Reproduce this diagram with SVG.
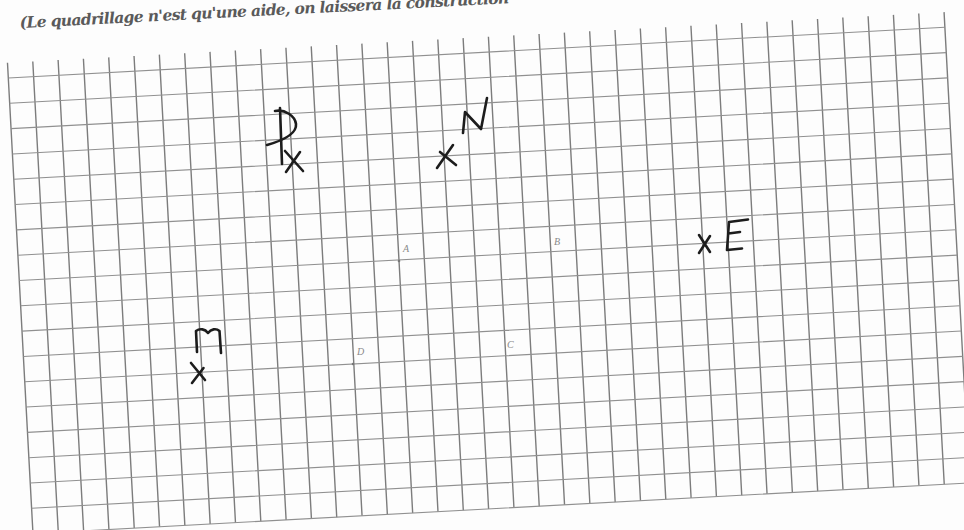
<svg xmlns="http://www.w3.org/2000/svg" width="964" height="530" viewBox="0 0 964 530">
<style>
.bg{fill:#fdfdfd}
.vl{stroke:#7c7c7c;stroke-width:1.4;fill:none}
.hl{stroke:#909090;stroke-width:1.1;fill:none}
.hw{stroke:#1c1c1c;stroke-width:2.6;fill:none;stroke-linecap:round;stroke-linejoin:round}
.hdr{font-family:"DejaVu Serif","Liberation Serif",serif;font-weight:bold;font-style:italic;font-size:15.5px;fill:#5a5a5a}
.lbl{font-family:"Liberation Serif",serif;font-style:italic;font-size:10px;fill:#8a8a8a}
.dot{fill:#777}
</style>
<rect class="bg" width="964" height="530"/>
<g id="header">
<text class="hdr" x="20" y="28" transform="rotate(-2.9 20 28)" textLength="490" lengthAdjust="spacing">(Le quadrillage n'est qu'une aide, on laissera la construction</text>
</g>
<g id="grid" transform="translate(8.3 78) rotate(-3.1)">
<path class="vl" d="M0 -15.2V456.3M25.35 -15.2V456.3M50.7 -15.2V456.3M76.05 -15.2V456.3M101.4 -15.2V456.3M126.75 -15.2V456.3M152.1 -15.2V456.3M177.45 -15.2V456.3M202.8 -15.2V456.3M228.15 -15.2V456.3M253.5 -15.2V456.3M278.85 -15.2V456.3M304.2 -15.2V456.3M329.55 -15.2V456.3M354.9 -15.2V456.3M380.25 -15.2V456.3M405.6 -15.2V456.3M430.95 -15.2V456.3M456.3 -15.2V456.3M481.65 -15.2V456.3M507 -15.2V456.3M532.35 -15.2V456.3M557.7 -15.2V456.3M583.05 -15.2V456.3M608.4 -15.2V456.3M633.75 -15.2V456.3M659.1 -15.2V456.3M684.45 -15.2V456.3M709.8 -15.2V456.3M735.15 -15.2V456.3M760.5 -15.2V456.3M785.85 -15.2V456.3M811.2 -15.2V456.3M836.55 -15.2V456.3M861.9 -15.2V456.3M887.25 -15.2V456.3M912.6 -15.2V456.3M937.95 -15.2V456.3"/>
<path class="hl" d="M0 0H937.95M0 25.35H937.95M0 50.7H937.95M0 76.05H937.95M0 101.4H937.95M0 126.75H937.95M0 152.1H937.95M0 177.45H937.95M0 202.8H937.95M0 228.15H937.95M0 253.5H937.95M0 278.85H937.95M0 304.2H937.95M0 329.55H937.95M0 354.9H937.95M0 380.25H937.95M0 405.6H937.95M0 430.95H937.95M0 456.3H937.95"/>
</g>
<g id="node-A"><circle class="dot" cx="399" cy="261" r="1.3"/><text class="lbl" x="403" y="252">A</text></g>
<g id="node-B"><text class="lbl" x="554" y="244.5">B</text></g>
<g id="node-C"><text class="lbl" x="507" y="348">C</text></g>
<g id="node-D"><circle class="dot" cx="353" cy="364" r="1.3"/><text class="lbl" x="357" y="355">D</text></g>
<g id="node-P">
<path class="hw" d="M280 108 L282 164"/>
<path class="hw" d="M275 111 C285 109 295 116 296 124 C297 134 281 141 267 145"/>
<path class="hw" d="M285 151 L303 171 M300 152 L286 172"/>
</g>
<g id="node-N">
<path class="hw" d="M463 133 L465 112 L481 129 L487 98"/>
<path class="hw" d="M440 152 L456 165 M453 145 L437 168"/>
</g>
<g id="node-E">
<path class="hw" d="M699 235 L710 252 M710 236 L699 253"/>
<path class="hw" d="M748 219.5 L729 222 L727 250 L742 248.5 M728.5 233.5 L740 232"/>
</g>
<g id="node-M">
<path class="hw" d="M197 352 L196 331 C200 328 205 329 208 333 C211 329 216 328 219.5 331 L221 353"/>
<path class="hw" d="M191 363 L205 380 M203.5 368 L192 383"/>
</g>
<g id="connectors"/>
</svg>
